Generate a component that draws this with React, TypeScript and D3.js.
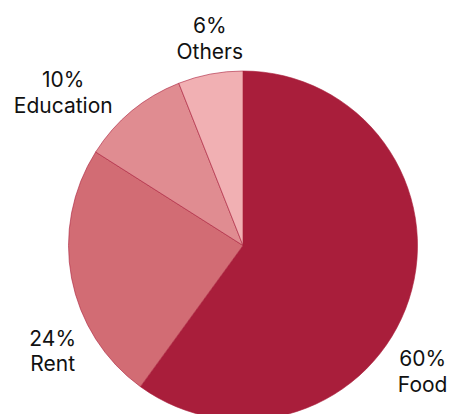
import { useRef, useEffect } from "react";
import * as d3 from "d3";

const categories = ["Food", "Rent", "Education", "Others"];
const shares = [60, 24, 10, 6];
const colors = ["#a91e3b", "#d26c74", "#e08c91", "#f1b0b3"];

const width = 450;
const height = 414;

export default function App() {
  const svgRef = useRef<SVGSVGElement>(null);

  useEffect(() => {
    if (!svgRef.current) return;
    const svg = d3.select(svgRef.current);
    svg.selectAll("*").remove();

    const cx = 243;
    const cy = 245.5;
    const r = 174.5;
    const fontSize = 21;

    const pie = d3
      .pie<number>()
      .sort(null)
      .value((d) => d);
    const arcs = pie(shares);
    const arc = d3.arc<d3.PieArcDatum<number>>().innerRadius(0).outerRadius(r);

    const g = svg.append("g").attr("transform", `translate(${cx},${cy})`);

    // Slices
    g.selectAll(".slice")
      .data(arcs)
      .join("path")
      .attr("class", "slice")
      .attr("d", arc)
      .attr("fill", (_, i) => colors[i])
      .attr("stroke", colors[0])
      .attr("stroke-width", 0.6);

    // Labels
    const labels = g
      .selectAll(".label")
      .data(arcs)
      .join("g")
      .attr("class", "label")
      .attr("font-family", "Inter, sans-serif")
      .attr("font-size", fontSize)
      .attr("fill", "#111")
      .attr("text-anchor", "middle");

    labels.append("text").text((d) => `${d.data}%`);
    labels
      .append("text")
      .attr("y", 25.6)
      .text((_, i) => categories[i]);

    // label angle: mid angle drifting downward, then spread neighbours apart
    const phis = arcs.map((d) => {
      const mid = (d.startAngle + d.endAngle) / 2;
      const s = Math.sin(mid);
      return mid + 0.33 * s * Math.abs(s);
    });
    const minSep = 0.707;
    for (let i = 0; i < phis.length - 1; i++) {
      const diff = phis[i + 1] - phis[i];
      if (diff < minSep) {
        const push = (minSep - diff) / 2;
        phis[i] -= push;
        phis[i + 1] += push;
      }
    }

    const capTrim = 2 * 0.2415 * fontSize;
    labels.each(function (_, i) {
      const node = this as SVGGElement;
      const bb = node.getBBox();
      const phi = phis[i];
      const gap = 10 + 2 * (1 - Math.cos(phi));
      const support =
        (bb.width / 2) * Math.abs(Math.sin(phi)) +
        ((bb.height - capTrim) / 2) * Math.abs(Math.cos(phi));
      const dist = r + gap + support;
      const px = dist * Math.sin(phi);
      const py = -dist * Math.cos(phi);
      const tx = px - (bb.x + bb.width / 2);
      const ty = py - (bb.y + bb.height / 2);
      d3.select(node).attr("transform", `translate(${tx},${ty})`);
    });
  }, []);

  return (
    <svg
      ref={svgRef}
      width={width}
      height={height}
      style={{ position: "fixed", left: 0, top: 0, background: "#fff" }}
    />
  );
}
